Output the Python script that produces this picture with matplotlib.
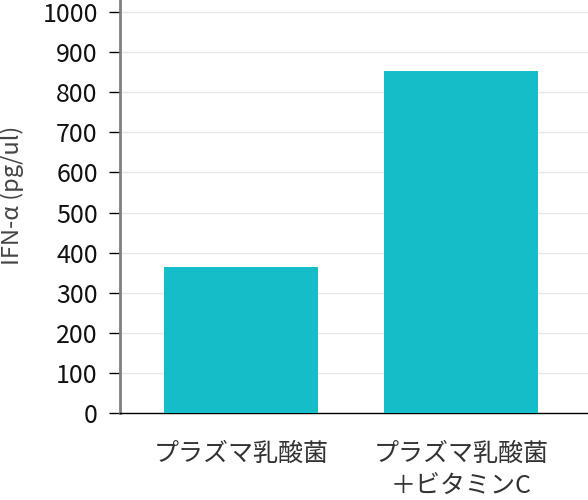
import matplotlib
matplotlib.use("Agg")
import matplotlib.pyplot as plt

categories = ["プラズマ乳酸菌", "プラズマ乳酸菌\n＋ビタミンC"]
values = [364, 853]
yticks = list(range(0, 1001, 100))

plt.rcParams['font.family'] = ['Noto Sans CJK JP', 'DejaVu Sans']

fig = plt.figure(figsize=(5.88, 5.0), dpi=100)
ax = fig.add_axes([120/588, 87/500, 468/588, 413/500])

x = list(range(len(categories)))
ax.bar(x, values, width=0.7, color="#15BDC8", zorder=3)

ax.set_xlim(-0.55, 1.577)
ax.set_ylim(0, 1030)
ax.set_yticks(yticks)
ax.set_xticks(x)
ax.set_xticklabels(categories, fontsize=18, color="#333333", linespacing=1.3)
ax.tick_params(axis='x', length=0, pad=20)
ax.tick_params(axis='y', length=8, width=1, color="black", labelsize=18, labelcolor="#111111", pad=8)

ax.grid(axis='y', color="#e6e6e6", linewidth=1, zorder=0)
ax.set_axisbelow(True)

for s in ["top", "right"]:
    ax.spines[s].set_visible(False)
ax.spines["left"].set_color("#808080")
ax.spines["left"].set_linewidth(2)
ax.spines["bottom"].set_color("black")
ax.spines["bottom"].set_linewidth(1)

ax.set_ylabel("IFN-α (pg/ul)", fontsize=17, color="#444444")
ax.yaxis.set_label_coords(-0.205, 0.528)

fig.savefig("out.png", dpi=100)
